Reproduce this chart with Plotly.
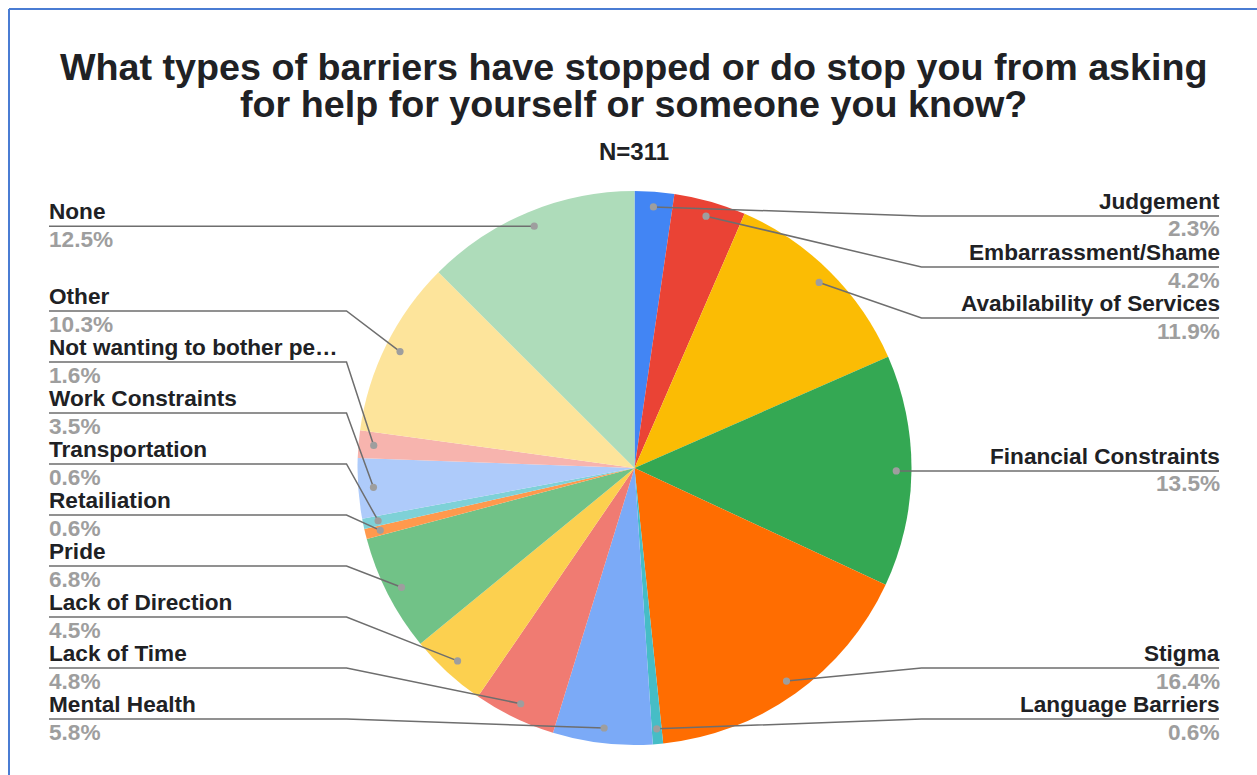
import math
import plotly.graph_objects as go

# Survey responses: barriers to asking for help (share of responses, %)
categories = [
    "Judgement",
    "Embarrassment/Shame",
    "Avabilability of Services",
    "Financial Constraints",
    "Stigma",
    "Language Barriers",
    "Mental Health",
    "Lack of Time",
    "Lack of Direction",
    "Pride",
    "Retailiation",
    "Transportation",
    "Work Constraints",
    "Not wanting to bother pe…",
    "Other",
    "None",
]
shares = [2.3, 4.2, 11.9, 13.5, 16.4, 0.6, 5.8, 4.8, 4.5, 6.8, 0.6, 0.6, 3.5, 1.6, 10.3, 12.5]
colors = [
    "#4285F4", "#EA4335", "#FBBC04", "#34A853", "#FF6D01", "#46BDC6",
    "#7BAAF7", "#F07B72", "#FCD04F", "#71C287", "#FF994D", "#7ED1D7",
    "#AECBFA", "#F7B4AE", "#FDE49B", "#AEDCBA",
]
title_lines = [
    "What types of barriers have stopped or do stop you from asking",
    "for help for yourself or someone you know?",
]
subtitle = "N=311"

# Canvas and pie geometry (pixels)
W, H = 1257, 775
CX, CY, R = 634.5, 468.0, 277.0
DOT_R = 0.945 * R
LEFT_X, LEFT_ELBOW = 49.0, 346.5
RIGHT_X, RIGHT_ELBOW = 1219.0, 921.5
GAP, Y_MIN, Y_MAX = 51.0, 216.0, 719.0

FONT = "Liberation Sans, Arial, sans-serif"
DARK = "#202124"
GREY = "#9E9E9E"
LEADER = "#6E6E6E"
LABEL_SIZE = 22.6


def px(x):
    return x / W


def py(y):
    return 1.0 - y / H


total = sum(shares)
cum = 0.0
points = []
for name, v in zip(categories, shares):
    mid = cum + v / 2.0
    cum += v
    ang = mid / total * 2 * math.pi
    dx = CX + DOT_R * math.sin(ang)
    dy = CY - DOT_R * math.cos(ang)
    side = "right" if math.sin(ang) > 0 else "left"
    points.append(dict(name=name, value=v, x=dx, y=dy, side=side))


def stack(items):
    """Spread labels vertically so they keep a minimum gap."""
    items = sorted(items, key=lambda p: p["y"])
    ys = []
    for i, p in enumerate(items):
        y = max(p["y"], Y_MIN)
        if i:
            y = max(y, ys[-1] + GAP)
        ys.append(y)
    for i in range(len(items) - 1, -1, -1):
        lim = Y_MAX if i == len(items) - 1 else ys[i + 1] - GAP
        ys[i] = min(ys[i], lim)
    for p, y in zip(items, ys):
        p["ly"] = y


stack([p for p in points if p["side"] == "left"])
stack([p for p in points if p["side"] == "right"])

fig = go.Figure()
fig.add_trace(
    go.Pie(
        labels=categories,
        values=shares,
        marker=dict(colors=colors, line=dict(width=0)),
        sort=False,
        direction="clockwise",
        rotation=0,
        textinfo="none",
        hoverinfo="skip",
        showlegend=False,
        domain=dict(
            x=[px(CX - R), px(CX + R)],
            y=[py(CY + R), py(CY - R)],
        ),
    )
)

shapes = []
annotations = []
for p in points:
    ly = p["ly"]
    if p["side"] == "left":
        x0, xe, anchor, tx = LEFT_X, LEFT_ELBOW, "left", LEFT_X - 1.5
    else:
        x0, xe, anchor, tx = RIGHT_X, RIGHT_ELBOW, "right", RIGHT_X + 1.5
    path = "M {:.5f} {:.5f} L {:.5f} {:.5f} L {:.5f} {:.5f}".format(
        px(x0), py(ly), px(xe), py(ly), px(p["x"]), py(p["y"])
    )
    shapes.append(dict(type="path", path=path, xref="paper", yref="paper",
                       line=dict(color=LEADER, width=1.5), layer="above"))
    rr = 3.6
    shapes.append(dict(type="circle", xref="paper", yref="paper",
                       x0=px(p["x"] - rr), x1=px(p["x"] + rr),
                       y0=py(p["y"] + rr), y1=py(p["y"] - rr),
                       fillcolor=GREY, line=dict(width=0), layer="above"))
    annotations.append(dict(
        x=px(tx), y=py(ly - 14.5), xref="paper", yref="paper",
        xanchor=anchor, yanchor="middle", showarrow=False, borderpad=0,
        text=p["name"], font=dict(family=FONT, size=LABEL_SIZE, color=DARK, weight="bold"),
    ))
    annotations.append(dict(
        x=px(tx), y=py(ly + 13.0), xref="paper", yref="paper",
        xanchor=anchor, yanchor="middle", showarrow=False, borderpad=0,
        text="{:.1f}%".format(p["value"]),
        font=dict(family=FONT, size=LABEL_SIZE, color=GREY, weight="bold"),
    ))

# Title block
for text, ymid in zip(title_lines, [67.0, 104.0]):
    annotations.append(dict(
        x=px(633.5), y=py(ymid), xref="paper", yref="paper",
        xanchor="center", yanchor="middle", showarrow=False, borderpad=0,
        text=text, font=dict(family=FONT, size=37.7, color=DARK, weight="bold"),
    ))
annotations.append(dict(
    x=px(633.5), y=py(151), xref="paper", yref="paper",
    xanchor="center", yanchor="middle", showarrow=False, borderpad=0,
    text=subtitle, font=dict(family=FONT, size=24, color=DARK, weight="bold"),
))

# Chart frame (top and left edges visible)
shapes.append(dict(type="line", xref="paper", yref="paper",
                   x0=px(9), x1=1.0, y0=py(9), y1=py(9),
                   line=dict(color="#4A7CD3", width=2), layer="above"))
shapes.append(dict(type="line", xref="paper", yref="paper",
                   x0=px(9), x1=px(9), y0=py(9), y1=0.0,
                   line=dict(color="#4A7CD3", width=2), layer="above"))

fig.update_layout(
    width=W,
    height=H,
    margin=dict(l=0, r=0, t=0, b=0),
    paper_bgcolor="white",
    plot_bgcolor="white",
    shapes=shapes,
    annotations=annotations,
)

fig.write_html("out.html")
